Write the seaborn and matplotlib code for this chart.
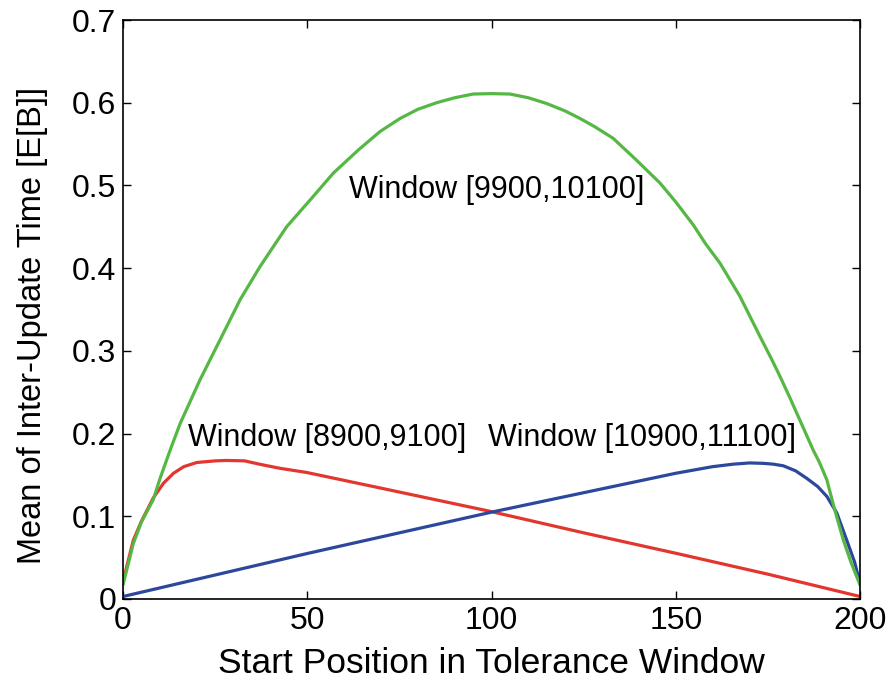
import matplotlib
matplotlib.use("Agg")
import matplotlib.pyplot as plt
import seaborn as sns
import pandas as pd

# ---- data ----
red_x = [0, 2.8, 5, 8.2, 11, 13.7, 16.5, 20, 25, 28, 33, 37, 42.6, 49.8, 67.9, 80.6, 99.6,
         125, 150.3, 175, 200]
red_y = [0.021, 0.071, 0.094, 0.122, 0.140, 0.152, 0.160, 0.165, 0.167, 0.1675, 0.167, 0.163,
         0.158, 0.153, 0.136, 0.124, 0.106, 0.080, 0.055, 0.030, 0.003]

blue_x = [0, 50, 100, 150, 160, 165.6, 170, 173.8, 176.5, 179.2, 182.5, 185.5, 188.5, 191,
          193.7, 196.4, 198.5, 200]
blue_y = [0.003, 0.055, 0.105, 0.152, 0.160, 0.163, 0.1645, 0.164, 0.163, 0.161, 0.155,
          0.146, 0.136, 0.124, 0.104, 0.071, 0.045, 0.019]

green_x = [0, 2.8, 5, 8.2, 10, 12.8, 15.5, 20.9, 26.3, 31.8, 37.2, 44.4, 50.7, 57.1, 63.9,
           69.7, 75.2, 80, 85.1, 90, 95, 100, 105, 110, 115, 120, 124, 128, 133, 139, 145.7,
           150, 154.8, 158, 162, 167.4, 172.9, 176, 178.3, 181, 183.7, 185.5, 187.3, 189,
           191, 193, 195.5, 197.5, 200]
green_y = [0.017, 0.067, 0.093, 0.12, 0.145, 0.18, 0.212, 0.265, 0.313, 0.362, 0.402, 0.45,
           0.482, 0.515, 0.543, 0.565, 0.581, 0.592, 0.600, 0.606, 0.6105, 0.611, 0.6105,
           0.606, 0.599, 0.590, 0.581, 0.571, 0.557, 0.532, 0.503, 0.480, 0.452, 0.43, 0.406,
           0.366, 0.317, 0.29, 0.269, 0.243, 0.216, 0.198, 0.18, 0.165, 0.144, 0.11, 0.071,
           0.045, 0.017]

labels = ["Window [8900,9100]", "Window [10900,11100]", "Window [9900,10100]"]
label_pos = [(55.4, 0.195), (140.8, 0.195), (101.5, 0.495)]

x_ticks = [0, 50, 100, 150, 200]
y_ticks = [0, 0.1, 0.2, 0.3, 0.4, 0.5, 0.6, 0.7]
y_ticklabels = ["0", "0.1", "0.2", "0.3", "0.4", "0.5", "0.6", "0.7"]

colors = {"red": "#E2362F", "blue": "#2C489C", "green": "#55B845"}

sns.set_theme(style="white")
plt.rcParams["font.family"] = ["Liberation Sans", "DejaVu Sans"]
plt.rcParams["text.color"] = "black"
plt.rcParams["axes.labelcolor"] = "black"
plt.rcParams["xtick.color"] = "black"
plt.rcParams["ytick.color"] = "black"

df = pd.concat([
    pd.DataFrame({"x": red_x, "y": red_y, "s": "red"}),
    pd.DataFrame({"x": blue_x, "y": blue_y, "s": "blue"}),
    pd.DataFrame({"x": green_x, "y": green_y, "s": "green"}),
], ignore_index=True)

fig = plt.figure(figsize=(8.88, 6.83), dpi=100)
ax = fig.add_axes([0.1385, 0.123, 0.8300, 0.8477])

sns.lineplot(data=df, x="x", y="y", hue="s", palette=colors, sort=False,
             linewidth=2.3, legend=False, ax=ax, estimator=None)

for txt, (tx, ty) in zip(labels, label_pos):
    ax.text(tx, ty, txt, ha="center", va="center", fontsize=22, color="black")

ax.set_xlim(0, 200)
ax.set_ylim(0, 0.7)
ax.set_xticks(x_ticks)
ax.set_xticklabels([str(t) for t in x_ticks])
ax.set_yticks(y_ticks)
ax.set_yticklabels(y_ticklabels)
ax.tick_params(direction="in", length=6, width=1, labelsize=23, colors="black",
               top=True, right=True, bottom=True, left=True, pad=5)
for sp in ax.spines.values():
    sp.set_visible(True)
    sp.set_color("black")
    sp.set_linewidth(1.2)
ax.set_xlabel("Start Position in Tolerance Window", fontsize=25.5, labelpad=8)
ax.set_ylabel("Mean of Inter-Update Time [E[B]]", fontsize=23.5)
ax.yaxis.set_label_coords(-0.102, 0.473)

fig.savefig("out.png", dpi=100, facecolor="white")
